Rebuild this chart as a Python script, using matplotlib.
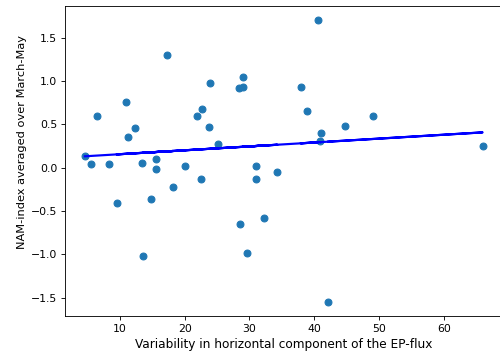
import matplotlib
matplotlib.use("Agg")
import matplotlib.pyplot as plt
import numpy as np

# EP-flux variability vs spring NAM index
ep_var = np.array([4.6, 5.48, 6.5, 8.35, 10.93, 11.28, 12.27, 13.45, 15.5, 15.56,
                   17.25, 20.03, 21.93, 22.65, 23.78, 23.89, 25.12, 28.36, 29.03, 28.93,
                   30.94, 30.94, 34.3, 22.5, 9.49, 14.84, 18.23, 13.55, 28.57, 32.22,
                   29.65, 40.6, 37.89, 38.86, 41.02, 40.92, 44.72, 49.09, 65.97, 42.15])
nam = np.array([0.139, 0.04, 0.60, 0.04, 0.755, 0.35, 0.46, 0.054, 0.10, -0.012,
                1.305, 0.023, 0.597, 0.678, 0.473, 0.975, 0.277, 0.92, 0.935, 1.047,
                0.016, -0.127, -0.046, -0.134, -0.408, -0.361, -0.219, -1.023, -0.65, -0.585,
                -0.985, 1.709, 0.928, 0.651, 0.40, 0.305, 0.478, 0.60, 0.247, -1.554])

# linear fit
slope, intercept = np.polyfit(ep_var, nam, 1)

fig = plt.figure(figsize=(6.4, 357 / 78.125), dpi=78.125)
ax = fig.add_axes([0.13, 0.1137, 0.875, 0.8706])

ax.scatter(ep_var, nam, s=40, color='tab:blue', zorder=2)
ax.plot(ep_var, slope * ep_var + intercept, 'b-', linewidth=2, zorder=3)

ax.set_xlabel("Variability in horizontal component of the EP-flux", fontsize=11.2)
ax.set_ylabel("NAM-index averaged over March-May", fontsize=10.5)
ax.yaxis.label.set_y(0.56)

fig.savefig("out.png", dpi=78.125)
